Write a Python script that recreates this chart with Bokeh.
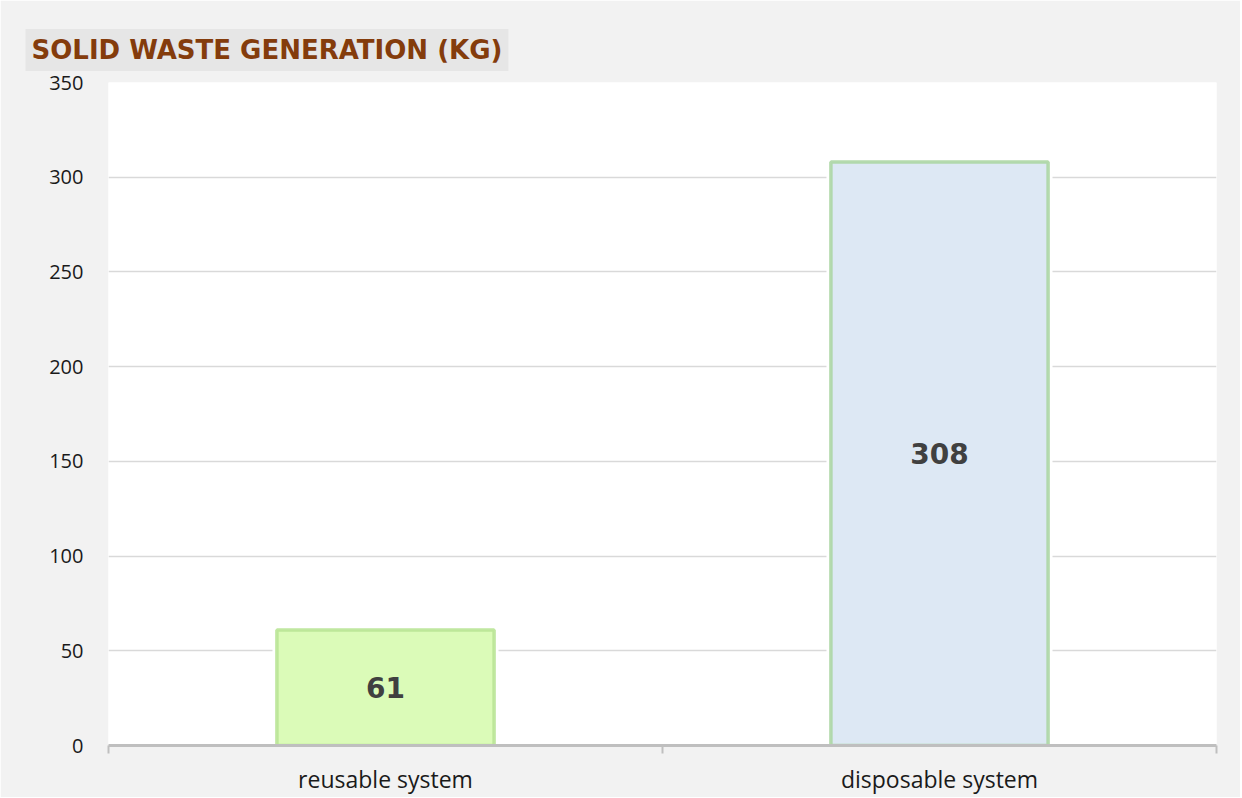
from bokeh.plotting import figure
from bokeh.models import (ColumnDataSource, Range1d, LinearAxis, CategoricalAxis,
                          FixedTicker, Title, LabelSet)
from bokeh.core.properties import value
from bokeh.embed import file_html
from bokeh.resources import INLINE

categories = ["reusable system", "disposable system"]
values = [61, 308]
labels = ["61", "308"]
fills = ["#dbfbb8", "#dde8f4"]
edges = ["#b9e496", "#acd6a4"]
y_ticks = [0, 50, 100, 150, 200, 250, 300, 350]

src = ColumnDataSource(dict(cat=categories, val=values, lab=labels,
                            mid=[v / 2 for v in values], fill=fills, edge=edges))

p = figure(x_range=categories, y_range=Range1d(0, 350),
           frame_width=1108, frame_height=663,
           min_border_left=108, min_border_right=24, min_border_top=82, min_border_bottom=10,
           output_backend="svg", toolbar_location=None, x_axis_location=None,
           background_fill_color="white", border_fill_color="#f2f2f2")
p.outline_line_color = None
p.x_range.range_padding = 0
p.x_range.factor_padding = 0

# title
t = Title(text="SOLID WASTE GENERATION (KG)", text_font="DejaVu Sans",
          text_font_style="bold", text_font_size="26px", text_color="#843c0c",
          background_fill_color="#e6e6e6", padding=6, offset=-83, standoff=23)
p.add_layout(t, "above")

# y axis
p.yaxis.ticker = FixedTicker(ticks=y_ticks)
p.yaxis.axis_line_color = None
p.yaxis.major_tick_line_color = None
p.yaxis.minor_tick_line_color = None
p.yaxis.major_label_text_font = "Open Sans"
p.yaxis.major_label_text_font_size = "20px"
p.yaxis.major_label_text_color = "#1a1a1a"
p.yaxis.major_label_standoff = 19

p.ygrid.ticker = FixedTicker(ticks=y_ticks)
p.ygrid.grid_line_color = "#d9d9d9"
p.ygrid.grid_line_width = 1.5
p.xgrid.grid_line_color = None

# separator axis (category boundaries, in the factor range's synthetic coordinates)
bounds = list(range(len(categories) + 1))
sep = LinearAxis(ticker=FixedTicker(ticks=bounds),
                 major_label_overrides={b: "" for b in bounds},
                 axis_line_color="#bfbfbf", axis_line_width=3,
                 major_tick_line_color="#bfbfbf", major_tick_line_width=2,
                 major_tick_in=0, major_tick_out=8, minor_tick_line_color=None,
                 major_label_text_font_size="8px", major_label_standoff=0)
p.add_layout(sep, "below")

cax = CategoricalAxis(axis_line_color=None, major_tick_line_color=None,
                      minor_tick_line_color=None,
                      major_label_text_font="Open Sans", major_label_text_font_size="23px",
                      major_label_text_color="#1a1a1a", major_label_standoff=3)
p.add_layout(cax, "below")

# shadow gap (hides gridline next to bars)
p.vbar(x="cat", top="val", width=0.408, source=src, fill_color="white", line_color=None)
p.vbar(x="cat", top="val", width=0.392, source=src, fill_color="fill",
       line_color="edge", line_width=3.5, line_alpha=0.9)

p.add_layout(LabelSet(x="cat", y="mid", text="lab", source=src,
                      text_align="center", text_baseline="middle",
                      text_font=value("DejaVu Sans"), text_font_style="bold",
                      text_font_size="28px", text_color="#404040"))

open("out.html", "w").write(file_html(p, INLINE))
